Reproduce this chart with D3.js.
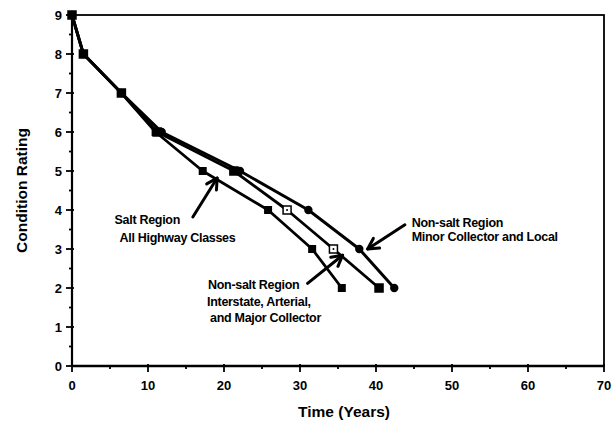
<!DOCTYPE html>
<html>
<head>
<meta charset="utf-8">
<script src="https://cdn.jsdelivr.net/npm/d3@7"></script>
<style>
  html, body { margin: 0; padding: 0; background: #fff; }
  svg { display: block; }
  text { font-family: "Liberation Sans", Arial, Helvetica, sans-serif; font-weight: bold; fill: #000; }
</style>
</head>
<body>
<svg id="chart" width="613" height="426"></svg>
<script>
// Condition rating (9 = new) against age in years for three bridge groups
const ratings = [9, 8, 7, 6, 5, 4, 3, 2];
const saltYears       = [0, 1.5, 6.5, 11.0, 17.2, 25.8, 31.6, 35.5];
const interstateYears = [0, 1.5, 6.5, 11.2, 21.3, 28.3, 34.4, 40.4];
const minorYears      = [0, 1.5, 6.5, 11.8, 22.1, 31.1, 37.8, 42.4];

const xTicks = [0, 10, 20, 30, 40, 50, 60, 70];
const yTicks = [0, 1, 2, 3, 4, 5, 6, 7, 8, 9];

const xTitle = "Time (Years)";
const yTitle = "Condition Rating";

const saltLabel = ["Salt Region", "All Highway Classes"];
const interstateLabel = ["Non-salt Region", "Interstate, Arterial,", "and Major Collector"];
const minorLabel = ["Non-salt Region", "Minor Collector and Local"];

const svg = d3.select("#chart");
const x = d3.scaleLinear().domain([0, 70]).range([72, 604]);
const y = d3.scaleLinear().domain([0, 9]).range([366, 15]);

// frame
svg.append("rect")
  .attr("x", x(0)).attr("y", y(9))
  .attr("width", x(70) - x(0)).attr("height", y(0) - y(9))
  .attr("fill", "none").attr("stroke", "#000").attr("stroke-width", 1.8);

// y axis: major ticks with labels, minor half-step ticks
const yAxis = svg.append("g").attr("transform", `translate(${x(0)},0)`);
yAxis.append("line").attr("y1", y(0)).attr("y2", y(9)).attr("stroke", "#000").attr("stroke-width", 2.2);
yAxis.selectAll("line.maj").data(yTicks).join("line").attr("class", "maj")
  .attr("x1", -6).attr("x2", 2).attr("y1", d => y(d)).attr("y2", d => y(d))
  .attr("stroke", "#000").attr("stroke-width", 1.8);
yAxis.selectAll("line.min").data(d3.range(0.5, 9, 1)).join("line").attr("class", "min")
  .attr("x1", -3).attr("x2", 0).attr("y1", d => y(d)).attr("y2", d => y(d))
  .attr("stroke", "#000").attr("stroke-width", 1.8);
yAxis.selectAll("text").data(yTicks).join("text")
  .attr("x", -10).attr("y", d => y(d)).attr("dy", "0.36em")
  .attr("text-anchor", "end").attr("font-size", 13).text(d => d);

// x axis
const xAxis = svg.append("g").attr("transform", `translate(0,${y(0)})`);
xAxis.append("line").attr("x1", x(0)).attr("x2", x(70)).attr("stroke", "#000").attr("stroke-width", 2.4);
xAxis.selectAll("line.maj").data(xTicks).join("line").attr("class", "maj")
  .attr("x1", d => x(d)).attr("x2", d => x(d)).attr("y1", -2).attr("y2", 6)
  .attr("stroke", "#000").attr("stroke-width", 1.8);
xAxis.selectAll("line.min").data(d3.range(5, 70, 10)).join("line").attr("class", "min")
  .attr("x1", d => x(d)).attr("x2", d => x(d)).attr("y1", 0).attr("y2", 3)
  .attr("stroke", "#000").attr("stroke-width", 1.8);
xAxis.selectAll("text").data(xTicks).join("text")
  .attr("x", d => x(d)).attr("y", 24)
  .attr("text-anchor", "middle").attr("font-size", 13).text(d => d);

// axis titles
svg.append("text").attr("x", 344).attr("y", 417)
  .attr("text-anchor", "middle").attr("font-size", 15.5).text(xTitle);
svg.append("text").attr("transform", `translate(27,${(y(0) + y(9)) / 2})rotate(-90)`)
  .attr("text-anchor", "middle").attr("font-size", 15.5).text(yTitle);

// series
const line = d3.line().x(d => x(d[0])).y(d => y(d[1]));
const pairs = yrs => yrs.map((t, i) => [t, ratings[i]]);
const series = [
  { pts: pairs(minorYears), width: 3.0 },
  { pts: pairs(interstateYears), width: 2.8 },
  { pts: pairs(saltYears), width: 2.8 }
];
svg.selectAll("path.series").data(series).join("path").attr("class", "series")
  .attr("d", d => line(d.pts)).attr("fill", "none")
  .attr("stroke", "#000").attr("stroke-width", d => d.width)
  .attr("stroke-linejoin", "round");

// markers
const s = 8;
svg.selectAll("circle.minor").data(pairs(minorYears)).join("circle").attr("class", "minor")
  .attr("cx", d => x(d[0])).attr("cy", d => y(d[1])).attr("r", 4.2).attr("fill", "#000");
const inter = pairs(interstateYears);
const lastI = inter.length - 1;
svg.selectAll("rect.inter").data(inter).join("rect").attr("class", "inter")
  .attr("x", d => x(d[0]) - s / 2).attr("y", d => y(d[1]) - s / 2)
  .attr("width", s).attr("height", s)
  .attr("fill", (d, i) => (i >= 5 && i < lastI) ? "#fff" : "#000")
  .attr("stroke", "#000").attr("stroke-width", 1.5);
svg.selectAll("circle.interdot").data(inter.filter((d, i) => i >= 5 && i < lastI)).join("circle")
  .attr("class", "interdot")
  .attr("cx", d => x(d[0])).attr("cy", d => y(d[1])).attr("r", 1).attr("fill", "#000");
svg.selectAll("rect.salt").data(pairs(saltYears)).join("rect").attr("class", "salt")
  .attr("x", d => x(d[0]) - s / 2).attr("y", d => y(d[1]) - s / 2)
  .attr("width", s).attr("height", s).attr("fill", "#000");

// annotation arrows: [from, to] in data units
function arrow(from, to) {
  const x1 = x(from[0]), y1 = y(from[1]), x2 = x(to[0]), y2 = y(to[1]);
  const a = Math.atan2(y2 - y1, x2 - x1), L = 12, spread = 0.5;
  const g = svg.append("g").attr("stroke", "#000").attr("stroke-width", 3)
    .attr("fill", "none").attr("stroke-linecap", "round").attr("stroke-linejoin", "round");
  g.append("line").attr("x1", x1).attr("y1", y1).attr("x2", x2).attr("y2", y2);
  g.append("path").attr("d",
    `M${x2 - L * Math.cos(a - spread)},${y2 - L * Math.sin(a - spread)}L${x2},${y2}L${x2 - L * Math.cos(a + spread)},${y2 - L * Math.sin(a + spread)}`);
}
arrow([15.9, 3.82], [19.1, 4.82]);
arrow([31.0, 2.12], [35.6, 2.84]);
arrow([43.8, 3.62], [38.9, 3.0]);

// annotation text: lines placed at pixel offsets from a data anchor
function label(lines, anchor, offsets, lh) {
  const g = svg.append("g").attr("font-size", 12.5);
  lines.forEach((t, i) => {
    g.append("text").attr("x", x(anchor[0]) + (offsets[i] || 0)).attr("y", y(anchor[1]) + i * lh)
      .attr("letter-spacing", "-0.3").text(t);
  });
}
label(saltLabel, [5.6, 3.64], [0, 5], 18);
label(interstateLabel, [17.9, 1.97], [0, -1, 2], 16.5);
label(minorLabel, [44.7, 3.57], [0, 0], 14.5);
</script>
</body>
</html>
